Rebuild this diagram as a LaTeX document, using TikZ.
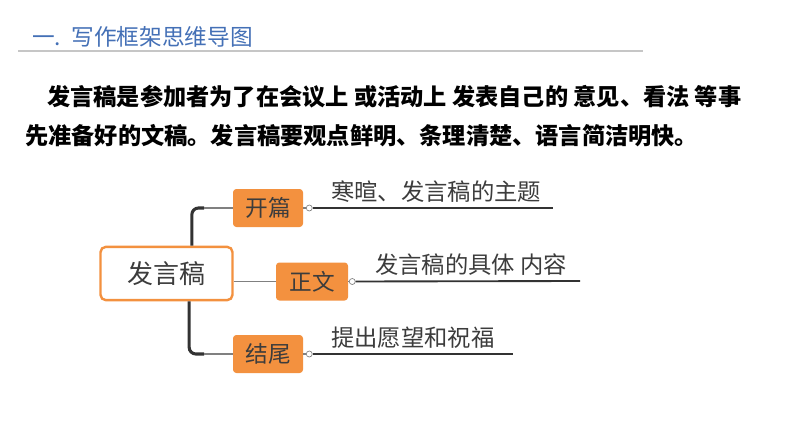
\documentclass[tikz,border=0pt]{standalone}
\usepackage{fontspec}
\setmainfont{Noto Sans CJK SC}
\usetikzlibrary{calc}
\definecolor{mmorange}{HTML}{F3913F}
\definecolor{titleblue}{HTML}{4470B6}
\definecolor{inkdark}{HTML}{333333}
\definecolor{inkgray}{HTML}{3C3C3C}

\tikzset{
  rootbox/.style={draw=mmorange, line width=1.8pt, fill=white, rounded corners=4pt,
    minimum width=99pt, minimum height=40pt, text=inkgray, font=\fontsize{19.5}{22}\selectfont},
  leafbox/.style={fill=mmorange, rounded corners=2.5pt, minimum width=52.5pt,
    minimum height=28.5pt, text=inkgray, font=\fontsize{17}{20}\selectfont},
  knob/.style={circle, draw=gray, fill=white, line width=0.5pt, inner sep=0pt, minimum size=4.5pt},
  trunk/.style={draw=inkdark, line width=2.3pt, rounded corners=5pt},
  twig/.style={draw=gray, line width=0.9pt},
  leafline/.style={draw=inkdark, line width=1.4pt},
  leaftext/.style={anchor=west, inner sep=0pt, text=inkgray, font=\fontsize{17.5}{20}\selectfont},
  bodytext/.style={anchor=west, inner sep=0pt, font=\fontsize{17.4}{20}\selectfont\bfseries}
}

\begin{document}
\begin{tikzpicture}[x=0.75pt, y=-0.75pt]
  \useasboundingbox (0,0) rectangle (794,447);

  % heading
  \node[anchor=west, inner sep=0pt, text=titleblue, font=\fontsize{17}{20}\selectfont] (title) at (32,37) {一.\hspace{0.45em}写作框架思维导图};
  \draw[gray!45, line width=0.9pt] (18,51) -- (643,51);

  % intro
  \node[bodytext] (introa) at (47,97) {发言稿是参加者为了在会议上 或活动上 发表自己的 意见、看法 等事};
  \node[bodytext] (introb) at (25,136) {先准备好的文稿。发言稿要观点鲜明、条理清楚、语言简洁明快。};

  % mind map
  \node[rootbox] (root) at (166.5,273.5) {发言稿};
  \node[leafbox] (kp) at (268,208) {开篇};
  \node[leafbox, minimum width=54pt] (zw) at (312,281.5) {正文};
  \node[leafbox] (jw) at (268,354) {结尾};

  \coordinate (kpbend) at (204,208);
  \coordinate (jwbend) at (204,354);
  \draw[trunk] ([xshift=19pt]root.north) |- (kpbend);
  \draw[trunk] ([xshift=17pt]root.south) |- (jwbend);
  \draw[twig] (kpbend) -- (kp.west);
  \draw[twig] (jwbend) -- (jw.west);
  \draw[twig] (zw.west -| root.east) -- (zw.west);

  \node[knob] (kpk) at ([xshift=4.5pt]kp.east) {};
  \node[knob] (zwk) at ([xshift=3pt]zw.east) {};
  \node[knob] (jwk) at ([xshift=4.5pt]jw.east) {};
  \draw[twig] (kp.east) -- (kpk);
  \draw[twig] (zw.east) -- (zwk);
  \draw[twig] (jw.east) -- (jwk);

  \coordinate (kpend) at (553,208);
  \coordinate (zwend) at (580,281);
  \coordinate (jwend) at (513,354);
  \draw[leafline] (kpk) -- (kpend);
  \draw[leafline] (zwk) -- (zwend);
  \draw[leafline] (jwk) -- (jwend);

  \node[leaftext] (kptext) at (331,192) {寒暄、发言稿的主题};
  \node[leaftext] (zwtext) at (375,265) {发言稿的具体 内容};
  \node[leaftext] (jwtext) at (331,338) {提出愿望和祝福};
\end{tikzpicture}
\end{document}
